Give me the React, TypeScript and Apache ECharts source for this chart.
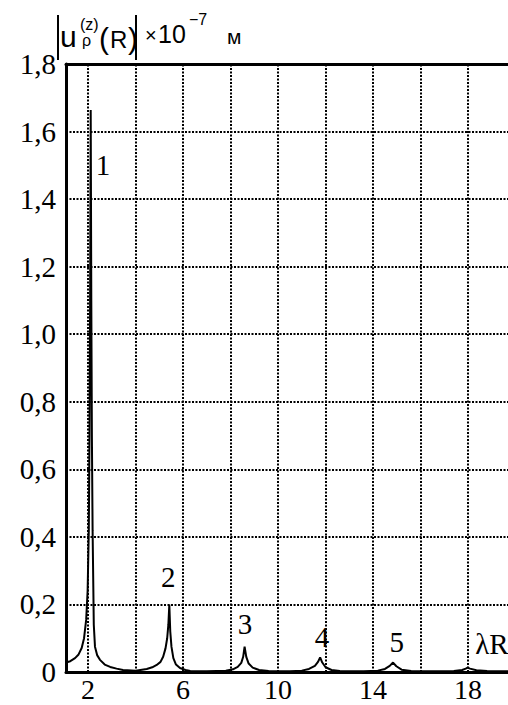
import React, { useEffect, useRef } from "react";
import * as echarts from "echarts";

// Curve |u_rho^(z)(R)| x 1e-7 m versus lambda*R
const curveX = [
  1.07, 1.25, 1.45, 1.6, 1.73, 1.83, 1.92, 1.98, 2.03, 2.06, 2.085, 2.11, 2.135, 2.16, 2.19, 2.24, 2.29, 2.38, 2.5, 2.7, 2.93, 3.2, 3.47, 4.0,
  4.47, 4.7, 4.89, 5.05, 5.16, 5.26, 5.33, 5.38, 5.42, 5.46, 5.51, 5.59, 5.7, 5.87, 6.1, 6.3, 7.0,
  7.8, 8.1, 8.3, 8.45, 8.53, 8.59, 8.66, 8.76, 8.93, 9.2, 9.6, 10.5,
  11.0, 11.3, 11.55, 11.68, 11.77, 11.86, 12.0, 12.25, 12.6, 13.6,
  14.2, 14.5, 14.7, 14.84, 14.98, 15.2, 15.6, 16.6,
  17.4, 17.75, 17.9, 17.98, 18.08, 18.35, 18.8, 19.68,
];
const curveY = [
  0.028, 0.032, 0.041, 0.052, 0.071, 0.1, 0.155, 0.24, 0.42, 0.7, 1.1, 1.664, 1.1, 0.7, 0.42, 0.14, 0.075, 0.05, 0.036, 0.022, 0.015, 0.01, 0.006, 0.004,
  0.009, 0.014, 0.021, 0.03, 0.045, 0.07, 0.1, 0.14, 0.2, 0.12, 0.075, 0.041, 0.022, 0.012, 0.006, 0.003, 0.002,
  0.004, 0.008, 0.015, 0.027, 0.045, 0.075, 0.045, 0.025, 0.013, 0.006, 0.003, 0.002,
  0.004, 0.009, 0.018, 0.03, 0.043, 0.028, 0.014, 0.006, 0.003, 0.002,
  0.004, 0.009, 0.018, 0.028, 0.017, 0.007, 0.003, 0.002,
  0.003, 0.006, 0.01, 0.013, 0.01, 0.005, 0.003, 0.002,
];

// Peak labels
const peakLabelX = [2.63, 5.37, 8.61, 11.85, 15.0, 19.0];
const peakLabelY = [1.5, 0.28, 0.142, 0.104, 0.09, 0.084];
const peakLabelText = ["1", "2", "3", "4", "5", "λR"];

// Axes
const xMin = 1.07;
const xMax = 19.68;
const xTickLabels = [2, 6, 10, 14, 18];
const xGridLines = [2, 4, 6, 8, 10, 12, 14, 16, 18];
const yMin = 0;
const yMax = 1.8;
const yStep = 0.2;
const yTickLabels = [0, 0.2, 0.4, 0.6, 0.8, 1.0, 1.2, 1.4, 1.6, 1.8];

const serif = "Liberation Serif";
const sans = "Liberation Sans";

const fmtY = (v: number) => (v === 0 ? "0" : v.toFixed(1).replace(".", ","));

export default function App() {
  const ref = useRef<HTMLDivElement>(null);
  useEffect(() => {
    if (!ref.current) return;
    const chart = echarts.init(ref.current, undefined, { renderer: "svg" });
    const dotted = { color: "#000", width: 2, type: [2, 1.5] as any };
    const txt = (text: string, x: number, y: number, size: number) => ({
      type: "text",
      x,
      y,
      style: {
        text,
        fill: "#000",
        fontSize: size,
        fontFamily: sans,
        align: "left",
        verticalAlign: "middle",
      },
      silent: true,
    });
    const labelBase = {
      show: true,
      color: "#000",
      opacity: 1,
      textBorderWidth: 0,
      fontFamily: serif,
      fontSize: 29,
    };
    chart.setOption({
      animation: false,
      backgroundColor: "#fff",
      textStyle: { fontFamily: serif, color: "#000" },
      grid: { left: 66, right: 0, top: 64, bottom: 33, containLabel: false },
      xAxis: [
        {
          type: "value",
          min: xMin,
          max: xMax,
          axisLine: { show: true, lineStyle: { color: "#000", width: 3 } },
          axisTick: { show: false },
          splitLine: { show: false },
          axisLabel: { show: false },
        },
        {
          type: "value",
          position: "top",
          min: xMin,
          max: xMax,
          axisLine: { show: true, onZero: false, lineStyle: { color: "#000", width: 3 } },
          axisTick: { show: false },
          axisLabel: { show: false },
          splitLine: { show: false },
        },
      ],
      yAxis: {
        type: "value",
        min: yMin,
        max: yMax,
        interval: yStep,
        axisLine: { show: true, lineStyle: { color: "#000", width: 3 } },
        axisTick: { show: false },
        splitLine: { show: true, lineStyle: dotted },
        axisLabel: { show: false },
      },
      series: [
        {
          type: "line",
          data: curveX.map((x, i) => [x, curveY[i]]),
          showSymbol: false,
          symbol: "none",
          lineStyle: { color: "#000", width: 2 },
          z: 5,
          markLine: {
            silent: true,
            symbol: "none",
            label: { show: false },
            lineStyle: dotted,
            data: xGridLines.map((x) => ({ xAxis: x })),
            z: 1,
          },
        },
        {
          type: "scatter",
          symbolSize: 0,
          silent: true,
          itemStyle: { color: "#000", opacity: 1 },
          data: peakLabelX.map((x, i) => [x, peakLabelY[i]]),
          label: {
            ...labelBase,
            position: "inside",
            formatter: (p: any) => peakLabelText[p.dataIndex],
          },
          z: 6,
        },
        {
          // y-axis tick labels
          type: "scatter",
          symbolSize: 0,
          silent: true,
          itemStyle: { color: "#000", opacity: 1 },
          data: yTickLabels.map((v) => [xMin, v]),
          label: {
            ...labelBase,
            position: "left",
            distance: 10,
            formatter: (p: any) => fmtY(yTickLabels[p.dataIndex]),
          },
          z: 6,
        },
        {
          // x-axis tick labels
          type: "scatter",
          symbolSize: 0,
          silent: true,
          itemStyle: { color: "#000", opacity: 1 },
          data: xTickLabels.map((v) => [v, yMin]),
          label: {
            ...labelBase,
            fontSize: 28,
            lineHeight: 28,
            position: "bottom",
            distance: 3,
            formatter: (p: any) => String(xTickLabels[p.dataIndex]),
          },
          z: 6,
        },
      ],
      graphic: [
        { type: "line", shape: { x1: 58, y1: 15, x2: 58, y2: 60 }, style: { stroke: "#000", lineWidth: 2 } },
        { type: "line", shape: { x1: 136, y1: 15, x2: 136, y2: 60 }, style: { stroke: "#000", lineWidth: 2 } },
        txt("u", 60, 36, 30),
        txt("(z)", 80, 24, 16),
        txt("ρ", 82, 40, 16),
        txt("(", 99, 38, 30),
        txt("R", 110, 39, 24),
        txt(")", 128, 38, 30),
        txt("×", 145, 35, 20),
        txt("10", 158, 34, 25),
        txt("−7", 189, 19, 16),
        txt("м", 227, 36, 21),
      ],
    });
    return () => chart.dispose();
  }, []);
  return (
    <div
      ref={ref}
      style={{ position: "fixed", left: 0, top: 0, width: 508, height: 705 }}
    />
  );
}
